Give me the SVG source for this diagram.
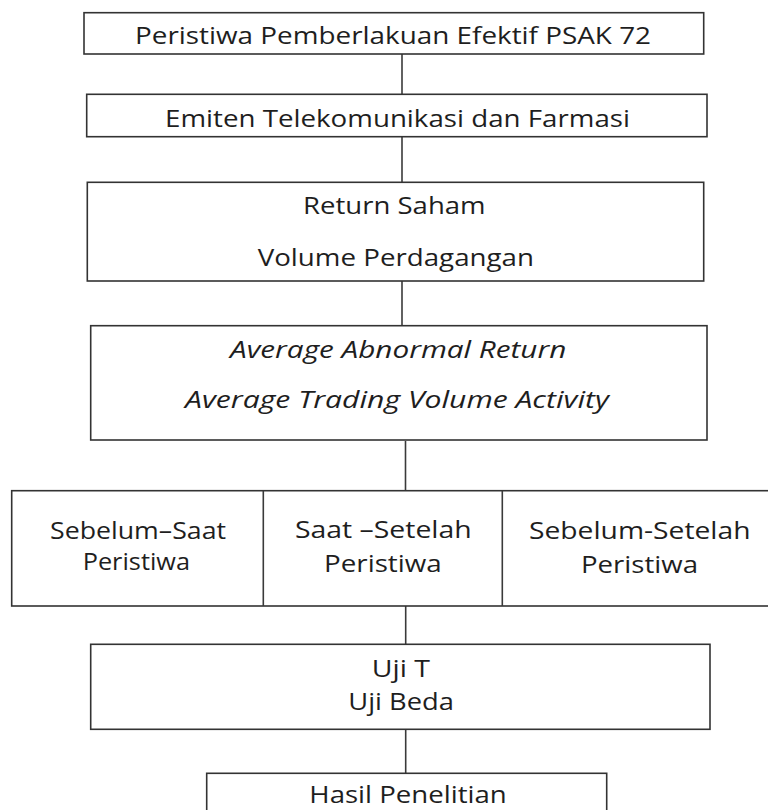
<svg xmlns="http://www.w3.org/2000/svg" width="768" height="810" viewBox="0 0 768 810">
<style>
.box{fill:#fff;stroke:#333;stroke-width:1.6}
.ln{stroke:#3a3a3a;stroke-width:1.6;fill:none}
.t{font-family:"Open Sans","Noto Sans","DejaVu Sans",sans-serif;font-size:23px;fill:#1e1e1e}
.i{font-style:italic}
</style>
<rect width="768" height="810" fill="#fff"/>
<g id="connectors">
<line class="ln" x1="402" y1="54" x2="402" y2="94.3"/>
<line class="ln" x1="402" y1="136.7" x2="402" y2="182.3"/>
<line class="ln" x1="402" y1="281" x2="402" y2="325.7"/>
<line class="ln" x1="405.5" y1="441" x2="405.5" y2="490.7"/>
<line class="ln" x1="405.7" y1="606" x2="405.7" y2="644.3"/>
<line class="ln" x1="405.7" y1="729.3" x2="405.7" y2="773.3"/>
</g>
<g id="n1">
<rect class="box" x="84" y="12.7" width="619.7" height="41.3"/>
<text class="t" x="135" y="44.3" textLength="516" lengthAdjust="spacingAndGlyphs">Peristiwa Pemberlakuan Efektif PSAK 72</text>
</g>
<g id="n2">
<rect class="box" x="86.7" y="94.3" width="620.3" height="42.4"/>
<text class="t" x="165" y="126.7" textLength="465" lengthAdjust="spacingAndGlyphs">Emiten Telekomunikasi dan Farmasi</text>
</g>
<g id="n3">
<rect class="box" x="87.3" y="182.3" width="616.4" height="98.7"/>
<text class="t" x="303" y="214.3" textLength="182.6" lengthAdjust="spacingAndGlyphs">Return Saham</text>
<text class="t" x="257.7" y="265.7" textLength="276.3" lengthAdjust="spacingAndGlyphs">Volume Perdagangan</text>
</g>
<g id="n4">
<rect class="box" x="90.7" y="325.7" width="616.3" height="114.3"/>
<text class="t i" x="230" y="358.3" textLength="336.3" lengthAdjust="spacingAndGlyphs">Average Abnormal Return</text>
<text class="t i" x="185" y="408.3" textLength="423.8" lengthAdjust="spacingAndGlyphs">Average Trading Volume Activity</text>
</g>
<g id="n5">
<rect class="box" x="11.7" y="490.7" width="780" height="115.3"/>
<line class="ln" x1="263.3" y1="490.7" x2="263.3" y2="606"/>
<line class="ln" x1="502.3" y1="490.7" x2="502.3" y2="606"/>
</g>
<g id="n5a">
<text class="t" x="50" y="539.3" textLength="176" lengthAdjust="spacingAndGlyphs">Sebelum–Saat</text>
<text class="t" x="82.7" y="570" textLength="107.3" lengthAdjust="spacingAndGlyphs">Peristiwa</text>
</g>
<g id="n5b">
<text class="t" x="295" y="538.3" textLength="176.7" lengthAdjust="spacingAndGlyphs">Saat –Setelah</text>
<text class="t" x="324" y="571.7" textLength="117.7" lengthAdjust="spacingAndGlyphs">Peristiwa</text>
</g>
<g id="n5c">
<text class="t" x="529" y="539.3" textLength="221.5" lengthAdjust="spacingAndGlyphs">Sebelum-Setelah</text>
<text class="t" x="581" y="572.7" textLength="117" lengthAdjust="spacingAndGlyphs">Peristiwa</text>
</g>
<g id="n6">
<rect class="box" x="90.7" y="644.3" width="619.3" height="85"/>
<text class="t" x="371.7" y="676.7" textLength="58.3" lengthAdjust="spacingAndGlyphs">Uji T</text>
<text class="t" x="348.3" y="710" textLength="105.7" lengthAdjust="spacingAndGlyphs">Uji Beda</text>
</g>
<g id="n7">
<rect class="box" x="206.7" y="773.3" width="400" height="60"/>
<text class="t" x="309.3" y="803.3" textLength="197.4" lengthAdjust="spacingAndGlyphs">Hasil Penelitian</text>
</g>
</svg>
